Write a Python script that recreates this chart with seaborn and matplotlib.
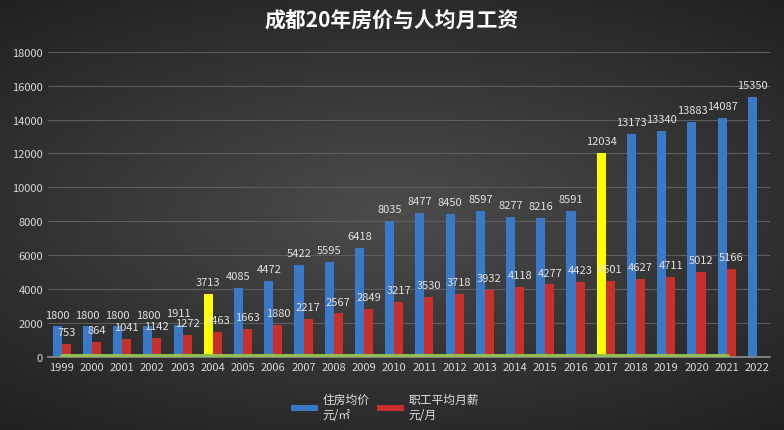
import numpy as np
import pandas as pd
import seaborn as sns
import matplotlib.pyplot as plt

# data
years = ['1999', '2000', '2001', '2002', '2003', '2004', '2005', '2006', '2007', '2008',
         '2009', '2010', '2011', '2012', '2013', '2014', '2015', '2016', '2017', '2018',
         '2019', '2020', '2021', '2022']
price = [1800, 1800, 1800, 1800, 1911, 3713, 4085, 4472, 5422, 5595, 6418, 8035,
         8477, 8450, 8597, 8277, 8216, 8591, 12034, 13173, 13340, 13883, 14087, 15350]
salary = [753, 864, 1041, 1142, 1272, 1463, 1663, 1880, 2217, 2567, 2849, 3217,
          3530, 3718, 3932, 4118, 4277, 4423, 4501, 4627, 4711, 5012, 5166, np.nan]
# green series hugging the axis (1999-2021)
base_line = [40, 40, 40, 40, 40, 40, 40, 40, 40, 40, 40, 40,
             40, 40, 40, 40, 40, 40, 40, 40, 40, 40, 40]
highlight_years = ['2004', '2017']

price_name = '住房均价\n元/㎡'
salary_name = '职工平均月薪\n元/月'

df = pd.DataFrame({
    'year': years + years,
    'value': price + salary,
    'series': [price_name] * len(years) + [salary_name] * len(years),
}).dropna()

sns.set_theme(style='dark')
plt.rcParams['font.family'] = ['Noto Sans CJK SC', 'DejaVu Sans']

fig = plt.figure(figsize=(7.84, 4.31), dpi=100)

# dark radial background
bg = fig.add_axes([0, 0, 1, 1], zorder=0)
yy, xx = np.mgrid[0:1:431j, 0:1:784j]
d = np.sqrt((xx - 0.5) ** 2 + ((yy - 0.5) * 1.2) ** 2)
grad = 0.30 - 0.22 * d
bg.imshow(grad, extent=[0, 1, 0, 1], aspect='auto', cmap='gray', vmin=0, vmax=1)
bg.axis('off')

ax = fig.add_axes([0.061, 0.1694, 0.921, 0.7083], zorder=1)
ax.set_facecolor('none')

sns.barplot(data=df, x='year', y='value', hue='series', order=years,
            hue_order=[price_name, salary_name], palette=['#3a78c8', '#c8302c'],
            width=0.6, saturation=1, linewidth=0, ax=ax)

for patch, yr in zip(ax.containers[0], years):
    if yr in highlight_years:
        patch.set_facecolor('#ffff00')

for c in ax.containers:
    ax.bar_label(c, fmt='{:.0f}', padding=5, color='#e2e2e2', fontsize=8)

sns.lineplot(x=np.arange(len(base_line)), y=base_line, color='#92c050',
             linewidth=3.5, ax=ax, legend=False, zorder=4)

ax.set_ylim(0, 18000)
ax.set_yticks(range(0, 18001, 2000))
ax.set_xlim(-0.46, 23.43)
ax.set_xlabel('')
ax.set_ylabel('')
ax.yaxis.grid(True, color='#5e5e5e', linewidth=0.8)
ax.xaxis.grid(False)
ax.set_axisbelow(True)
for s in ['top', 'right', 'left']:
    ax.spines[s].set_visible(False)
ax.spines['bottom'].set_color('#8a8a8a')
ax.tick_params(colors='#d8d8d8', labelsize=8, length=0)

handles, labels = ax.get_legend_handles_labels()
ax.legend(handles, labels, loc='center', bbox_to_anchor=(385 / 784, 1 - 408 / 431),
          bbox_transform=fig.transFigure, ncol=2, frameon=False,
          labelcolor='#e0e0e0', fontsize=8.5, handlelength=2.3, handleheight=0.4,
          columnspacing=0.6, handletextpad=0.4)

fig.text(0.5, 1 - 21 / 431, '成都20年房价与人均月工资', ha='center', va='center',
         fontsize=15, fontweight='bold', color='white')

fig.savefig('out.png', dpi=100)
